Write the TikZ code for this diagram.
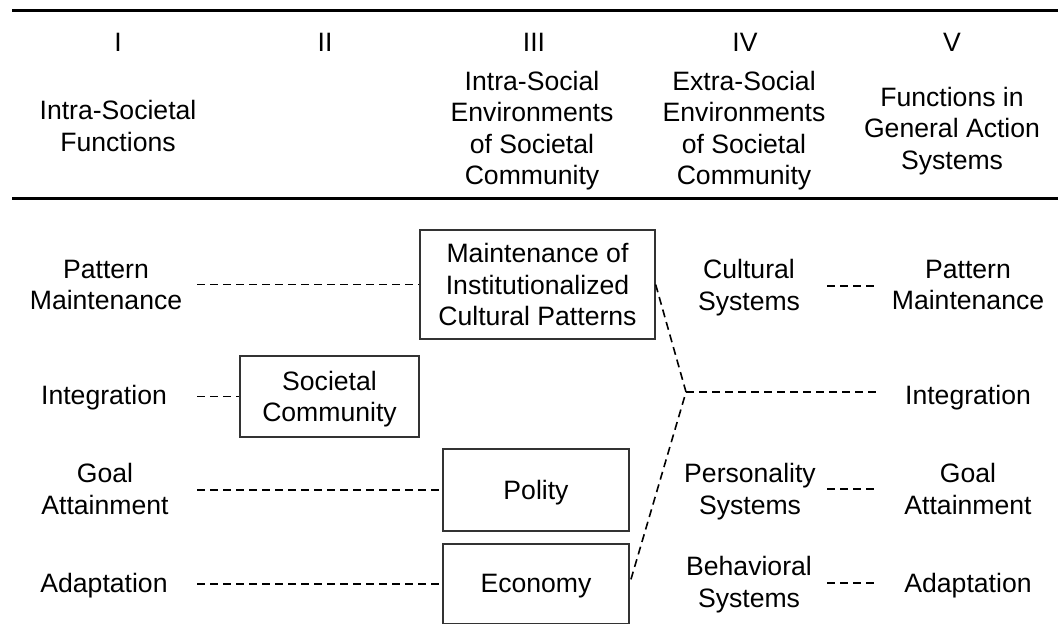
\documentclass[tikz,border=0pt]{standalone}
\usepackage{fontspec}
\setmainfont{Liberation Sans}
\begin{document}
\begin{tikzpicture}[x=0.5pt,y=-0.5pt,
  every node/.style={font=\fontsize{13.3}{15.75}\selectfont, align=center, inner sep=0pt},
  nd/.style={text depth=0pt},
  boxnode/.style={draw=black!80, line width=0.65pt},
  dashline/.style={dash pattern=on 4pt off 2.5pt, line width=0.8pt},
  rulex/.style={line width=1.6pt}]
\useasboundingbox (0,0) rectangle (1058,625);
% rules
\coordinate (r1a) at (12,10.5); \coordinate (r1b) at (1058,10.5);
\coordinate (r2a) at (12,198.5); \coordinate (r2b) at (1058,198.5);
\draw[rulex] (r1a) -- (r1b);
\draw[rulex] (r2a) -- (r2b);
% header
\node (n1) at (118,42) {I};
\node (n2) at (325,42) {II};
\node (n3) at (534,42) {III};
\node (n4) at (745,42) {IV};
\node (n5) at (952,42) {V};
\node (h1) at (118,126) {Intra-Societal\\Functions};
\node[nd] (h3) at (532,128) {Intra-Social\\Environments\\of Societal\\Community};
\node[nd] (h4) at (744,128) {Extra-Social\\Environments\\of Societal\\Community};
\node[nd] (h5) at (952,128) {Functions in\\General Action\\Systems};
% column I
\node (pm1) at (106,285) {Pattern\\Maintenance};
\node[nd] (in1) at (104,395) {Integration};
\node (ga1) at (105,489) {Goal\\Attainment};
\node[nd] (ad1) at (104,583) {Adaptation};
% boxes
\node[boxnode, minimum width=117.5pt, minimum height=54.5pt] (micp) at (537.5,284.5)
  {Maintenance of\\Institutionalized\\Cultural Patterns};
\node[boxnode, nd, minimum width=89.5pt, minimum height=40.5pt] (sc) at (329.5,396.5)
  {Societal\\Community};
\node[boxnode, nd, minimum width=93pt, minimum height=41pt] (pol) at (536,490) {Polity};
\node[boxnode, nd, minimum width=93pt, minimum height=39.75pt] (eco) at (536,583.75) {Economy};
% column IV
\node[nd] (cs) at (749,285) {Cultural\\Systems};
\node[nd] (ps) at (750,489) {Personality\\Systems};
\node[nd] (bs) at (749,582) {Behavioral\\Systems};
% column V
\node (pm5) at (968,285) {Pattern\\Maintenance};
\node[nd] (in5) at (968,395) {Integration};
\node (ga5) at (968,489) {Goal\\Attainment};
\node[nd] (ad5) at (968,583) {Adaptation};
% connectors
\coordinate (c1) at (197,284.5);
\coordinate (c2) at (197,396.5);
\coordinate (c3) at (197,490);
\coordinate (c4) at (197,583.75);
\draw[dashline] (c1) -- (micp.west);
\draw[dashline] (c2) -- (sc.west);
\draw[dashline] (c3) -- (pol.west);
\draw[dashline] (c4) -- (eco.west);
\coordinate (j) at (686,392);
\coordinate (c5) at (877,392);
\draw[dashline] (micp.east) -- (j) -- (eco.east);
\draw[dashline] (j) -- (c5);
\coordinate (d1a) at (827,286); \coordinate (d1b) at (877,286);
\coordinate (d2a) at (827,489); \coordinate (d2b) at (877,489);
\coordinate (d3a) at (827,583); \coordinate (d3b) at (877,583);
\draw[dashline] (d1a) -- (d1b);
\draw[dashline] (d2a) -- (d2b);
\draw[dashline] (d3a) -- (d3b);
\end{tikzpicture}
\end{document}
